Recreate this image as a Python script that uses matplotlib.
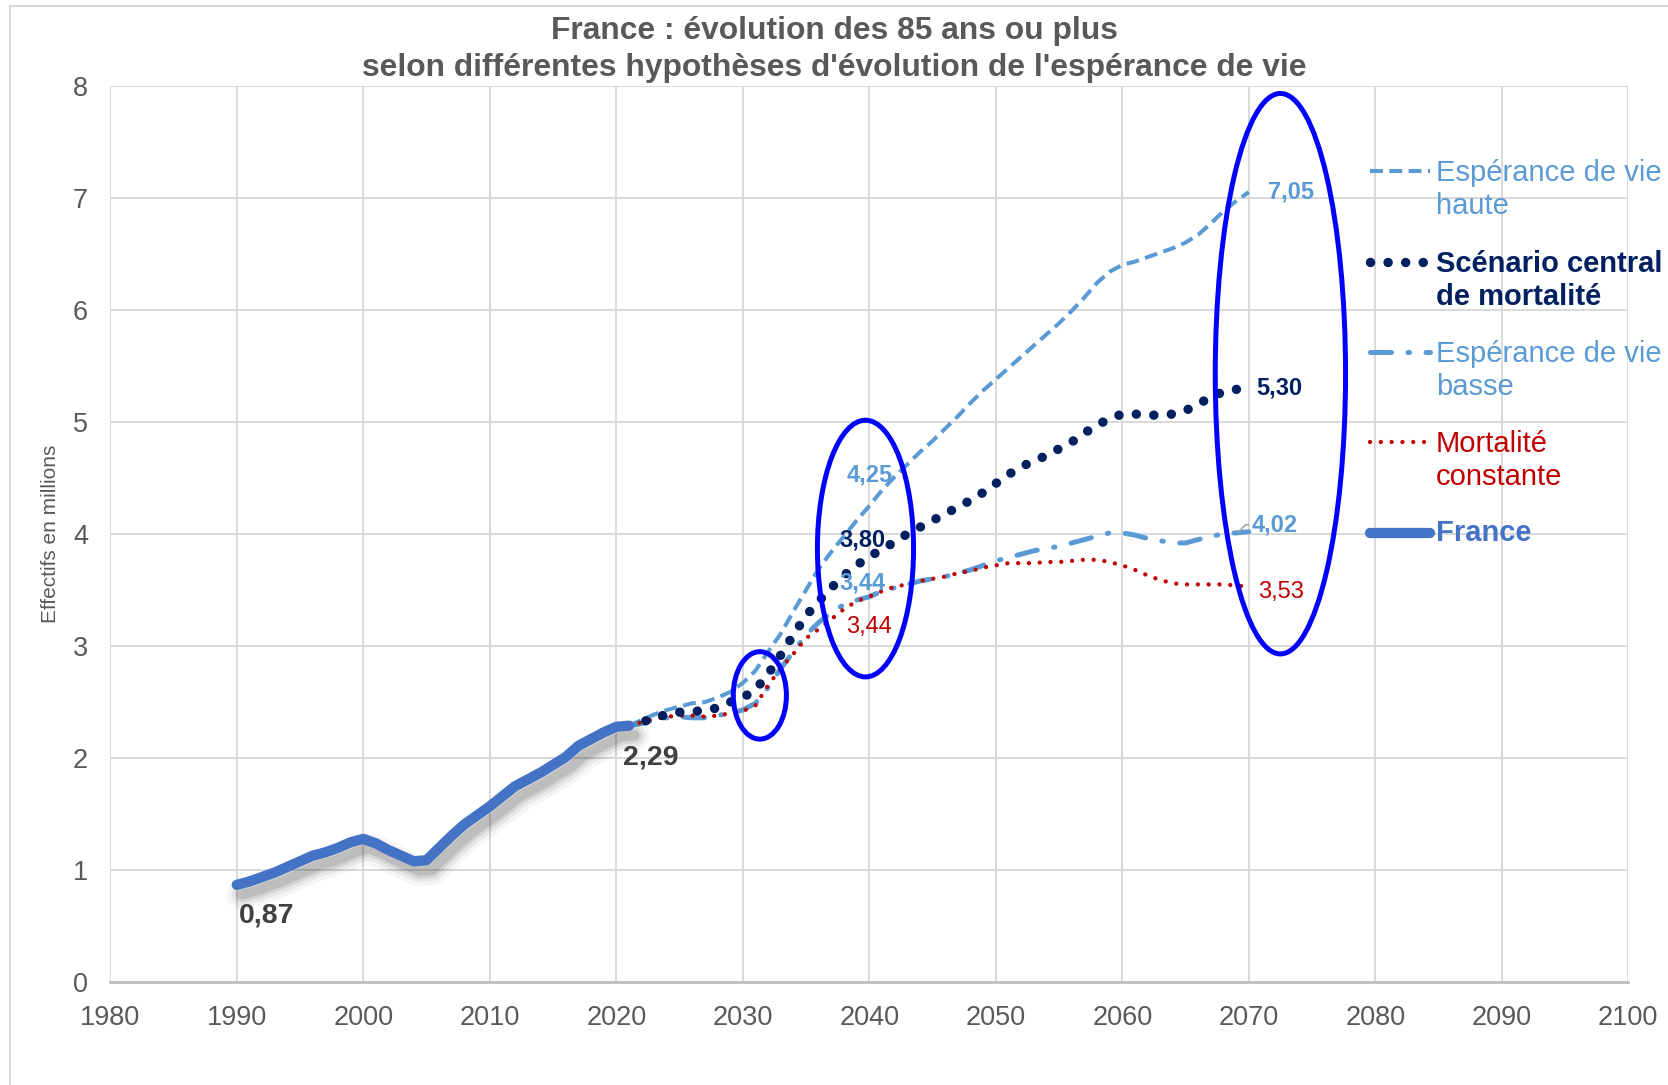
import matplotlib
matplotlib.use("Agg")
import matplotlib.pyplot as plt
import matplotlib.patheffects as pe
from matplotlib.patches import Ellipse
from matplotlib.lines import Line2D

# données (millions de personnes de 85 ans ou plus)
years_hist = list(range(1990, 2022))
france = [0.87, 0.90, 0.94, 0.98, 1.03, 1.08, 1.13, 1.16, 1.20, 1.25,
          1.28, 1.24, 1.18, 1.13, 1.08, 1.09, 1.20, 1.31, 1.41, 1.49,
          1.57, 1.66, 1.75, 1.81, 1.87, 1.94, 2.01, 2.11, 2.17, 2.23,
          2.28, 2.29]

years_proj = list(range(2021, 2071))
haute = [2.29, 2.34, 2.39, 2.43, 2.46, 2.49, 2.50, 2.54, 2.59, 2.67,
         2.78, 2.95, 3.11, 3.31, 3.50, 3.69, 3.84, 3.98, 4.12, 4.25,
         4.39, 4.51, 4.62, 4.73, 4.83, 4.94, 5.05, 5.17, 5.28, 5.38,
         5.48, 5.58, 5.68, 5.78, 5.88, 5.99, 6.11, 6.24, 6.34, 6.40,
         6.43, 6.47, 6.51, 6.55, 6.60, 6.67, 6.77, 6.88, 6.97, 7.05]
central = [2.29, 2.32, 2.36, 2.39, 2.41, 2.42, 2.42, 2.45, 2.50, 2.54,
           2.61, 2.75, 2.92, 3.10, 3.27, 3.40, 3.52, 3.63, 3.72, 3.80,
           3.86, 3.93, 4.00, 4.06, 4.12, 4.18, 4.24, 4.30, 4.37, 4.45,
           4.53, 4.60, 4.65, 4.70, 4.76, 4.82, 4.90, 4.97, 5.03, 5.07,
           5.07, 5.06, 5.06, 5.07, 5.10, 5.16, 5.22, 5.27, 5.29, 5.30]
basse = [2.29, 2.31, 2.34, 2.36, 2.37, 2.36, 2.36, 2.38, 2.40, 2.43,
         2.49, 2.63, 2.80, 2.95, 3.10, 3.21, 3.30, 3.37, 3.41, 3.44,
         3.49, 3.52, 3.55, 3.58, 3.60, 3.62, 3.65, 3.68, 3.72, 3.76,
         3.79, 3.82, 3.85, 3.87, 3.89, 3.92, 3.95, 3.98, 4.01, 4.01,
         3.99, 3.96, 3.94, 3.92, 3.92, 3.95, 3.98, 4.00, 4.01, 4.02]
constante = [2.29, 2.32, 2.35, 2.37, 2.38, 2.38, 2.37, 2.38, 2.40, 2.42,
             2.47, 2.65, 2.80, 2.93, 3.07, 3.15, 3.24, 3.33, 3.40, 3.44,
             3.49, 3.53, 3.55, 3.58, 3.60, 3.62, 3.65, 3.67, 3.70, 3.72,
             3.74, 3.74, 3.74, 3.75, 3.75, 3.76, 3.77, 3.77, 3.75, 3.72,
             3.68, 3.63, 3.59, 3.56, 3.55, 3.55, 3.55, 3.55, 3.54, 3.53]

x_ticks = list(range(1980, 2101, 10))
y_ticks = list(range(0, 9))

GREY = "#595959"
LIGHT = "#5B9BD5"
NAVY = "#002060"
RED = "#C00000"
FBLUE = "#4472C4"

styles = {
    "haute": dict(color=LIGHT, lw=2.9, linestyle=(0, (3.2, 1.6)),
                  dash_capstyle="butt"),
    "central": dict(color=NAVY, lw=6.8, linestyle=(0, (0.01, 1.85)),
                    dash_capstyle="round"),
    "basse": dict(color=LIGHT, lw=3.6, linestyle=(0, (4.2, 3.3, 0.3, 3.3)),
                  dash_capstyle="round"),
    "constante": dict(color=RED, lw=3.1, linestyle=(0, (0.01, 2.5)),
                      dash_capstyle="round"),
    "france": dict(color=FBLUE, lw=7.4, solid_capstyle="round",
                   solid_joinstyle="round"),
}

plt.rcParams["font.family"] = "Liberation Sans"

fig = plt.figure(figsize=(16.68, 10.85), dpi=100)
ax = fig.add_axes([0.0661, 0.0946, 0.9101, 0.8265])

ax.plot(years_proj, haute, **styles["haute"], zorder=3)
ax.plot(years_proj, basse, **styles["basse"], zorder=3)
ax.plot(years_proj, constante, **styles["constante"], zorder=4)
ax.plot(years_proj, central, **styles["central"], zorder=5)

shadow = [pe.SimpleLineShadow(offset=(4, -7), shadow_color="black",
                              alpha=a, linewidth=w)
          for a, w in [(0.04, 22), (0.06, 16), (0.08, 11), (0.10, 7)]]
ax.plot(years_hist, france, **styles["france"], zorder=6,
        path_effects=shadow + [pe.Normal()])

ax.set_xlim(1980, 2100)
ax.set_ylim(0, 8)
ax.set_xticks(x_ticks)
ax.set_yticks(y_ticks)
ax.grid(True, color="#D9D9D9", lw=1.4)
ax.set_axisbelow(True)
for side in ["top", "left", "right"]:
    ax.spines[side].set_visible(False)
ax.spines["bottom"].set_color("#BFBFBF")
ax.spines["bottom"].set_linewidth(2)
ax.tick_params(length=0, labelsize=19.5, labelcolor=GREY)
ax.tick_params(axis="x", pad=16)
ax.tick_params(axis="y", pad=16)

ax.set_ylabel("Effectifs en millions", fontsize=15, color=GREY)
ax.yaxis.set_label_coords(-0.033, 0.5)

W, H = 1668.0, 1085.0
fig.text(0.5, 1 - 49.5 / H,
         "France : évolution des 85 ans ou plus\n"
         "selon différentes hypothèses d'évolution de l'espérance de vie",
         ha="center", va="center", fontsize=22.9, fontweight="bold",
         color=GREY, linespacing=1.32)

# étiquettes de valeurs
def label(x, y, txt, dx, dy, color, size=17, weight="bold", ha="center"):
    ax.annotate(txt, (x, y), xytext=(dx, dy), textcoords="offset points",
                ha=ha, va="center", fontsize=size, color=color,
                fontweight=weight, zorder=8)

label(years_hist[0], france[0], "0,87", 1.5, -22, "#404040", 20.5, ha="left")
label(years_hist[-1], france[-1], "2,29", 16, -23, "#404040", 20.5)
label(2040, haute[19], "4,25", 0, 22, LIGHT)
label(2040, central[19], "3,80", -5, 12, NAVY)
label(2040, basse[19], "3,44", -5, 10, LIGHT)
label(2040, constante[19], "3,44", 0, -22, RED, weight="normal")
label(2070, haute[-1], "7,05", 14, 0, LIGHT, ha="left")
label(2070, central[-1], "5,30", 5.5, 0, NAVY, ha="left")
label(2070, constante[-1], "3,53", 6.5, -3.5, RED, weight="normal", ha="left")
ax.annotate("4,02", (2069.2, basse[-1]), xytext=(9, 5),
            textcoords="offset points", ha="left", va="center",
            fontsize=17, color=LIGHT, fontweight="bold", zorder=8,
            arrowprops=dict(arrowstyle="-", color="#A6A6A6", lw=1.2,
                            shrinkA=0, shrinkB=0,
                            connectionstyle="angle,angleA=0,angleB=45,rad=0"))

# ellipses d'annotation
for (cx, cy, w, h) in [(2031.35, 2.56, 4.2, 0.78),
                       (2039.7, 3.87, 7.6, 2.29),
                       (2072.5, 5.43, 10.3, 5.0)]:
    ax.add_patch(Ellipse((cx, cy), w, h, fill=False, edgecolor="#0000FF",
                         lw=3.6, zorder=7, clip_on=False))

# légende
entries = [
    ("haute", "Espérance de vie\nhaute", LIGHT, "normal", 170.7),
    ("central", "Scénario central\nde mortalité", NAVY, "bold", 261.7),
    ("basse", "Espérance de vie\nbasse", LIGHT, "normal", 351.7),
    ("constante", "Mortalité\nconstante", RED, "normal", 442.3),
    ("france", "France", FBLUE, "bold", 533.3),
]
for key, txt, col, wt, ypx in entries:
    yf = 1 - ypx / H
    fig.add_artist(Line2D([1370 / W, 1430 / W], [yf, yf], **styles[key]))
    if "\n" in txt:
        fig.text(1436 / W, 1 - (ypx - 12) / H, txt, ha="left", va="top",
                 fontsize=21, color=col, fontweight=wt, linespacing=1.22)
    else:
        fig.text(1436 / W, yf, txt, ha="left", va="center",
                 fontsize=21, color=col, fontweight=wt)

# cadre
fig.add_artist(Line2D([10 / W, 1.0], [1 - 6 / H, 1 - 6 / H],
                      color="#D9D9D9", lw=1.5))
fig.add_artist(Line2D([10 / W, 10 / W], [0, 1 - 6 / H],
                      color="#D9D9D9", lw=1.5))

fig.savefig("out.png", dpi=100)
